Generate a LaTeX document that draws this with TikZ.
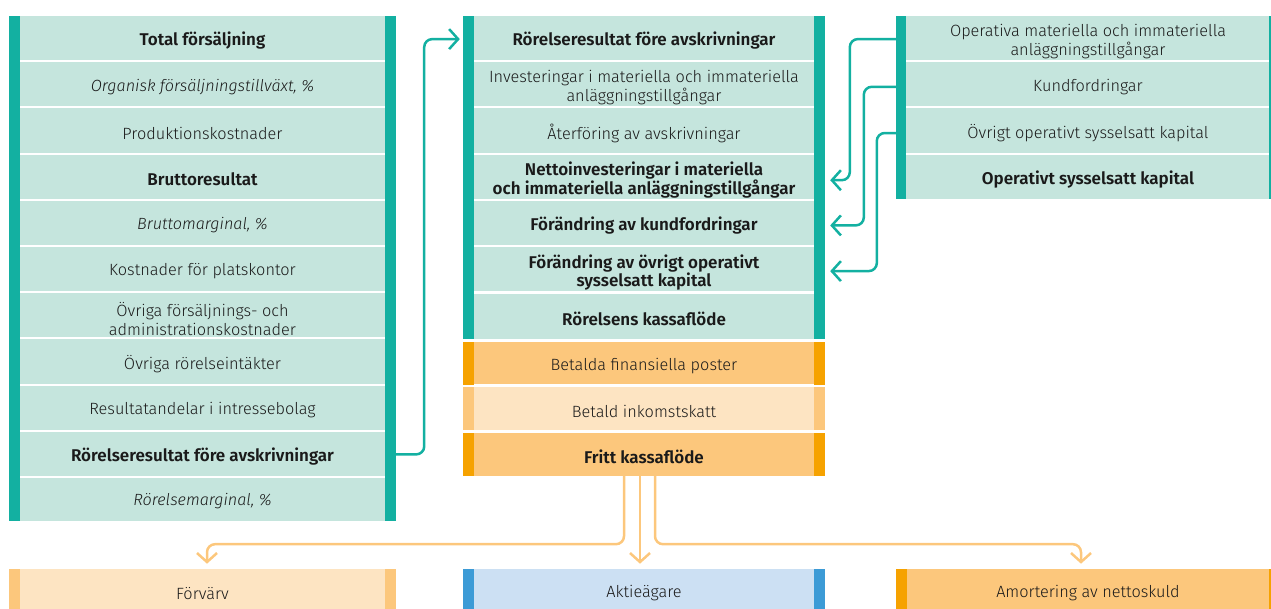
\documentclass[tikz,border=0pt]{standalone}
\usepackage{fontspec}
\setmainfont{Fira Sans}[UprightFont={* Light}, ItalicFont={* Light Italic}, BoldFont={* SemiBold}]
\usetikzlibrary{arrows.meta}
\definecolor{tbar}{HTML}{13B0A1}
\definecolor{tfill}{HTML}{C5E5DD}
\definecolor{obar}{HTML}{F6A200}
\definecolor{ofill}{HTML}{FCC77C}
\definecolor{lofill}{HTML}{FDE4C2}
\definecolor{bbar}{HTML}{3C9BD6}
\definecolor{bfill}{HTML}{CCE0F3}
\definecolor{txt}{HTML}{1A1A1A}
\newcommand{\sidebars}[2]{%
  \fill[#2] (#1.north west) rectangle ([xshift=11pt]#1.south west);
  \fill[#2] (#1.north east) rectangle ([xshift=-11pt]#1.south east);}
% \cell{name}{x}{y}{box style}{text style}{text}
\newcommand{\cell}[6]{%
  \node[box,#4] (#1) at (#2,#3) {};
  \node[lbl,#5] (#1-t) at ([yshift=-2.5pt]#1.center) {#6};}
\begin{document}
\begin{tikzpicture}[x=1pt,y=-1pt,
  box/.style={minimum height=44.2pt, inner sep=0pt, draw=none, fill=tfill},
  lw/.style={minimum width=387pt},
  mw/.style={minimum width=362pt},
  rw/.style={minimum width=384pt},
  lbl/.style={inner sep=0pt, align=center, text=txt,
    font=\fontsize{16.3}{19}\selectfont},
  bf/.style={font=\fontsize{17}{18.6}\selectfont\bfseries},
  it/.style={font=\fontsize{16.2}{19}\selectfont\itshape},
  two/.style={yshift=-1pt},
  tarrow/.style={draw=tbar, line width=2.5pt, rounded corners=8pt,
    -{Straight Barb[length=9pt,width=20pt,line width=2.5pt]}},
  oarrow/.style={draw=ofill, line width=2.5pt, rounded corners=8pt,
    -{Straight Barb[length=9pt,width=20pt,line width=2.5pt]}}]
\useasboundingbox (0,0) rectangle (1271,608);

% Left column
\cell{L0}{202.5}{38.1}{lw}{bf}{Total försäljning}
\cell{L1}{202.5}{84.3}{lw}{it}{Organisk försäljningstillväxt, \%}
\cell{L2}{202.5}{130.5}{lw}{}{Produktionskostnader}
\cell{L3}{202.5}{176.7}{lw}{bf}{Bruttoresultat}
\cell{L4}{202.5}{222.9}{lw}{it}{Bruttomarginal, \%}
\cell{L5}{202.5}{269.1}{lw}{}{Kostnader för platskontor}
\cell{L6}{202.5}{315.3}{lw}{two}{Övriga försäljnings- och\\administrationskostnader}
\cell{L7}{202.5}{361.5}{lw}{}{Övriga rörelseintäkter}
\cell{L8}{202.5}{407.7}{lw}{}{Resultatandelar i intressebolag}
\cell{L9}{202.5}{453.9}{lw}{bf}{Rörelseresultat före avskrivningar}
\cell{L10}{202.5}{499}{lw,minimum height=43pt}{it}{Rörelsemarginal, \%}
\fill[tbar] (L0.north west) rectangle ([xshift=11pt]L10.south west);
\fill[tbar] (L0.north east) rectangle ([xshift=-11pt]L10.south east);

% Middle column
\cell{M0}{644}{38.1}{mw}{bf}{Rörelseresultat före avskrivningar}
\cell{M1}{644}{84.3}{mw}{two}{Investeringar i materiella och immateriella\\anläggningstillgångar}
\cell{M2}{644}{130.5}{mw}{}{Återföring av avskrivningar}
\cell{M3}{644}{176.7}{mw}{bf,two}{Nettoinvesteringar i materiella\\och immateriella anläggningstillgångar}
\cell{M4}{644}{222.9}{mw}{bf}{Förändring av kundfordringar}
\cell{M5}{644}{269.1}{mw}{bf,two}{Förändring av övrigt operativt\\sysselsatt kapital}
\cell{M6}{644}{316.5}{mw,minimum height=45pt}{bf}{Rörelsens kassaflöde}
\fill[tbar] (M0.north west) rectangle ([xshift=11pt]M6.south west);
\fill[tbar] (M0.north east) rectangle ([xshift=-11pt]M6.south east);
\cell{M7}{644}{363.2}{mw,fill=ofill,minimum height=42.5pt}{}{Betalda finansiella poster}
\sidebars{M7}{obar}
\cell{M8}{644}{408.7}{mw,fill=lofill,minimum height=42.5pt}{}{Betald inkomstskatt}
\sidebars{M8}{ofill}
\cell{M9}{644}{454.5}{mw,fill=ofill,minimum height=43pt}{bf}{Fritt kassaflöde}
\sidebars{M9}{obar}

% Right column
\cell{R0}{1088}{38.1}{rw}{two}{Operativa materiella och immateriella\\anläggningstillgångar}
\cell{R1}{1088}{84.3}{rw}{}{Kundfordringar}
\cell{R2}{1088}{130.5}{rw}{}{Övrigt operativt sysselsatt kapital}
\cell{R3}{1088}{176.7}{rw}{bf}{Operativt sysselsatt kapital}
\fill[tbar] (R0.north west) rectangle ([xshift=10pt]R3.south west);
\fill[tbar] (R0.north east) rectangle ([xshift=-11pt]R3.south east);

% Bottom row
\cell{B1}{202.5}{591}{minimum width=387pt,fill=lofill}{}{Förvärv}
\sidebars{B1}{ofill}
\cell{B2}{644}{591}{minimum width=362pt,fill=bfill}{}{Aktieägare}
\sidebars{B2}{bbar}
\cell{B3}{1088}{591}{minimum width=384pt,fill=ofill}{}{Amortering av nettoskuld}
\sidebars{B3}{obar}

% Teal connectors
\draw[tarrow] ([yshift=-0.5pt]L9.east) -- ++(28,0) |- ([xshift=-3pt,yshift=-1pt]M0.west);
\draw[tarrow] ([yshift=-1pt]R0.west) -- ++(-46,0) |- ([xshift=5pt,yshift=-3.5pt]M3.east);
\draw[tarrow] ([yshift=-2.5pt]R1.west) -- ++(-32,0) |- ([xshift=5pt,yshift=-2.5pt]M4.east);
\draw[tarrow] ([yshift=-2.5pt]R2.west) -- ++(-19,0) |- ([xshift=5pt,yshift=-2pt]M5.east);

% Orange connectors
\draw[oarrow] ([xshift=-20pt]M9.south) -- ++(0,68) -| ([xshift=4.5pt,yshift=5pt]B1.north);
\draw[oarrow] ([xshift=-4pt]M9.south) -- ([xshift=-4pt,yshift=5pt]B2.north);
\draw[oarrow] ([xshift=11pt]M9.south) -- ++(0,68) -| ([xshift=-7pt,yshift=5pt]B3.north);
\end{tikzpicture}
\end{document}
